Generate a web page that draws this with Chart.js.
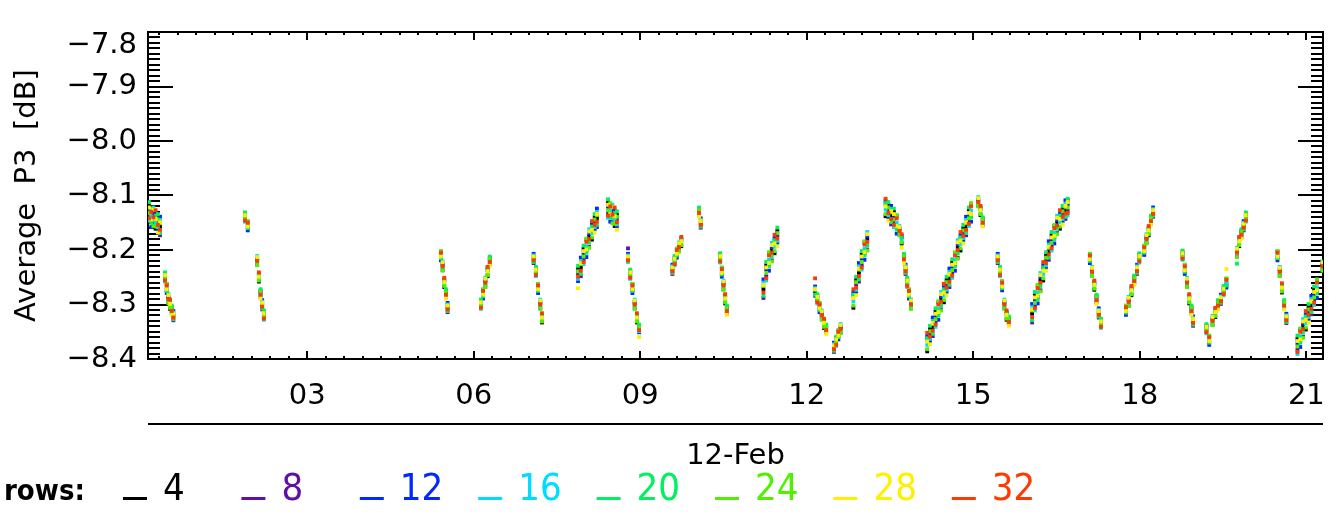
<!DOCTYPE html>
<html lang="en">
<head>
  <meta charset="UTF-8">
  <title>Average P3 - 12-Feb</title>
  <script src="https://cdn.jsdelivr.net/npm/chart.js"></script>
  <style>
    body { margin: 0; background: #fff; }
    canvas { display: block; }
  </style>
</head>
<body>
  <canvas id="p3Chart" width="1335" height="517"></canvas>

  <script>
    // hours of 12-Feb, shared by all rows (one line per pass)
    const times = [
      0.15, 0.19, 0.23, 0.27, 0.31, 0.35,
      0.44, 0.47, 0.50, 0.53, 0.56, 0.59,
      1.88, 1.93,
      2.10, 2.13, 2.16, 2.19, 2.22,
      5.41, 5.44, 5.47, 5.50, 5.53,
      6.13, 6.17, 6.21, 6.25, 6.29,
      7.08, 7.12, 7.16, 7.20, 7.23,
      7.88, 7.93, 7.98, 8.03, 8.08, 8.13, 8.18, 8.22,
      8.42, 8.46, 8.50, 8.54, 8.58,
      8.78, 8.82, 8.86, 8.90, 8.94, 8.98,
      9.58, 9.62, 9.66, 9.70, 9.74,
      10.06, 10.09,
      10.44, 10.47, 10.50, 10.53, 10.56,
      11.22, 11.27, 11.32, 11.37, 11.42, 11.47,
      12.15, 12.19, 12.23, 12.27, 12.31, 12.35,
      12.49, 12.53, 12.57, 12.61,
      12.84, 12.89, 12.94, 12.99, 13.04, 13.09,
      13.42, 13.47, 13.52, 13.57, 13.62, 13.67, 13.71,
      13.75, 13.78, 13.81, 13.84, 13.88,
      14.17, 14.22, 14.27, 14.32, 14.37, 14.42, 14.47, 14.52, 14.57, 14.62, 14.67, 14.72, 14.77, 14.82, 14.87, 14.92, 14.96,
      15.09, 15.13, 15.17,
      15.44, 15.48, 15.52, 15.56, 15.60, 15.64,
      16.06, 16.11, 16.16, 16.21, 16.26, 16.31, 16.36, 16.41, 16.46, 16.51, 16.56, 16.61, 16.66, 16.70,
      17.10, 17.14, 17.18, 17.22, 17.26, 17.30,
      17.75, 17.80, 17.85, 17.90, 17.95, 17.99,
      18.08, 18.12, 18.16, 18.20, 18.24,
      18.77, 18.81, 18.85, 18.89, 18.93, 18.96,
      19.20, 19.25,
      19.31, 19.36, 19.41, 19.46, 19.51, 19.56,
      19.75, 19.79, 19.83, 19.87, 19.91,
      20.48, 20.52, 20.56, 20.60, 20.64,
      20.84, 20.89, 20.94, 20.99, 21.04, 21.09, 21.14, 21.19,
      21.29
    ];

    const rows4 = [
      -8.118, -8.146, -8.136, -8.161, -8.140, -8.157,
      -8.244, -8.273, -8.288, -8.308, -8.305, -8.321,
      -8.134, -8.158,
      -8.218, -8.258, -8.275, -8.301, -8.314,
      -8.213, -8.228, -8.268, -8.275, -8.306,
      -8.294, -8.283, -8.258, -8.248, -8.215,
      -8.216, -8.234, -8.273, -8.298, -8.333,
      -8.235, -8.232, -8.198, -8.201, -8.176, -8.181, -8.140, -8.142,
      -8.113, -8.136, -8.131, -8.156, -8.135,
      -8.216, -8.239, -8.273, -8.298, -8.333, -8.340,
      -8.236, -8.214, -8.208, -8.193, -8.193,
      -8.125, -8.151,
      -8.209, -8.243, -8.263, -8.298, -8.305,
      -8.272, -8.228, -8.226, -8.201, -8.206, -8.165,
      -8.276, -8.284, -8.308, -8.318, -8.343, -8.340,
      -8.379, -8.362, -8.358, -8.343,
      -8.306, -8.255, -8.242, -8.208, -8.206, -8.181,
      -8.138, -8.118, -8.137, -8.130, -8.158, -8.163, -8.188,
      -8.210, -8.236, -8.254, -8.283, -8.298,
      -8.386, -8.345, -8.342, -8.313, -8.316, -8.291, -8.296, -8.255, -8.252, -8.223, -8.226, -8.196, -8.201, -8.160, -8.157, -8.128, -8.136,
      -8.110, -8.136, -8.143,
      -8.216, -8.234, -8.268, -8.298, -8.328, -8.325,
      -8.317, -8.283, -8.286, -8.256, -8.256, -8.210, -8.202, -8.173, -8.176, -8.151, -8.161, -8.125, -8.127, -8.108,
      -8.218, -8.238, -8.273, -8.285, -8.316, -8.329,
      -8.313, -8.293, -8.283, -8.250, -8.236, -8.209,
      -8.203, -8.178, -8.173, -8.140, -8.131,
      -8.204, -8.238, -8.258, -8.298, -8.305, -8.331,
      -8.339, -8.368,
      -8.328, -8.323, -8.295, -8.291, -8.269, -8.263,
      -8.203, -8.193, -8.165, -8.156, -8.134,
      -8.213, -8.238, -8.278, -8.295, -8.326,
      -8.363, -8.366, -8.341, -8.346, -8.305, -8.302, -8.273, -8.276,
      -8.228
    ];

    const rows8 = [
      -8.138, -8.126, -8.154, -8.139, -8.148, -8.173,
      -8.254, -8.263, -8.297, -8.297, -8.309, -8.329,
      -8.144, -8.148,
      -8.227, -8.247, -8.279, -8.309, -8.324,
      -8.203, -8.237, -8.257, -8.279, -8.314,
      -8.304, -8.273, -8.267, -8.237, -8.219,
      -8.224, -8.244, -8.263, -8.307, -8.322,
      -8.243, -8.248, -8.218, -8.181, -8.194, -8.159, -8.148, -8.158,
      -8.133, -8.116, -8.149, -8.134, -8.143,
      -8.197, -8.249, -8.263, -8.307, -8.322, -8.344,
      -8.244, -8.224, -8.198, -8.202, -8.182,
      -8.129, -8.159,
      -8.219, -8.233, -8.272, -8.287, -8.309,
      -8.288, -8.248, -8.206, -8.219, -8.184, -8.173,
      -8.284, -8.294, -8.298, -8.327, -8.332, -8.344,
      -8.387, -8.372, -8.348, -8.352,
      -8.284, -8.263, -8.258, -8.228, -8.186, -8.199,
      -8.116, -8.126, -8.153, -8.150, -8.138, -8.172, -8.177,
      -8.214, -8.244, -8.264, -8.273, -8.307,
      -8.364, -8.353, -8.358, -8.333, -8.296, -8.309, -8.274, -8.263, -8.268, -8.243, -8.206, -8.214, -8.179, -8.168, -8.173, -8.148, -8.116,
      -8.119, -8.125, -8.147,
      -8.224, -8.244, -8.258, -8.307, -8.317, -8.329,
      -8.333, -8.303, -8.266, -8.274, -8.234, -8.218, -8.218, -8.193, -8.156, -8.169, -8.139, -8.133, -8.143, -8.128,
      -8.208, -8.247, -8.262, -8.289, -8.324, -8.339,
      -8.303, -8.302, -8.272, -8.254, -8.244, -8.219,
      -8.193, -8.187, -8.162, -8.144, -8.139,
      -8.214, -8.228, -8.267, -8.287, -8.309, -8.339,
      -8.349, -8.358,
      -8.337, -8.312, -8.299, -8.299, -8.279, -8.253,
      -8.212, -8.182, -8.169, -8.164, -8.144,
      -8.203, -8.247, -8.267, -8.299, -8.334,
      -8.383, -8.346, -8.359, -8.324, -8.313, -8.318, -8.293, -8.256,
      -8.237
    ];

    const rows12 = [
      -8.126, -8.158, -8.130, -8.133, -8.162, -8.139,
      -8.248, -8.279, -8.285, -8.294, -8.316, -8.312,
      -8.138, -8.164,
      -8.215, -8.244, -8.286, -8.292, -8.318,
      -8.219, -8.225, -8.254, -8.286, -8.297,
      -8.298, -8.289, -8.255, -8.234, -8.226,
      -8.207, -8.238, -8.279, -8.295, -8.319,
      -8.257, -8.214, -8.206, -8.213, -8.170, -8.153, -8.162, -8.124,
      -8.121, -8.148, -8.125, -8.128, -8.157,
      -8.207, -8.243, -8.279, -8.295, -8.319, -8.351,
      -8.227, -8.218, -8.214, -8.190, -8.179,
      -8.136, -8.142,
      -8.213, -8.249, -8.260, -8.284, -8.316,
      -8.254, -8.236, -8.238, -8.195, -8.178, -8.187,
      -8.267, -8.288, -8.314, -8.315, -8.329, -8.351,
      -8.370, -8.366, -8.364, -8.340,
      -8.278, -8.277, -8.224, -8.216, -8.218, -8.175,
      -8.110, -8.140, -8.119, -8.138, -8.170, -8.160, -8.174,
      -8.221, -8.227, -8.258, -8.289, -8.295,
      -8.358, -8.367, -8.324, -8.321, -8.328, -8.285, -8.268, -8.277, -8.234, -8.231, -8.238, -8.190, -8.173, -8.182, -8.139, -8.136, -8.148,
      -8.107, -8.122, -8.154,
      -8.207, -8.238, -8.274, -8.295, -8.314, -8.336,
      -8.299, -8.291, -8.298, -8.250, -8.228, -8.232, -8.184, -8.181, -8.188, -8.145, -8.133, -8.147, -8.109, -8.116,
      -8.224, -8.235, -8.259, -8.296, -8.307, -8.333,
      -8.319, -8.290, -8.269, -8.261, -8.227, -8.213,
      -8.209, -8.175, -8.159, -8.151, -8.122,
      -8.208, -8.244, -8.255, -8.284, -8.316, -8.322,
      -8.343, -8.374,
      -8.325, -8.309, -8.306, -8.282, -8.273, -8.269,
      -8.200, -8.179, -8.176, -8.147, -8.138,
      -8.219, -8.235, -8.264, -8.306, -8.317,
      -8.371, -8.378, -8.335, -8.318, -8.327, -8.284, -8.281, -8.288,
      -8.225
    ];

    const rows16 = [
      -8.146, -8.138, -8.122, -8.149, -8.158, -8.145,
      -8.258, -8.269, -8.281, -8.302, -8.314, -8.315,
      -8.148, -8.154,
      -8.211, -8.252, -8.284, -8.295, -8.328,
      -8.209, -8.221, -8.262, -8.284, -8.300,
      -8.308, -8.279, -8.251, -8.242, -8.224,
      -8.210, -8.248, -8.269, -8.291, -8.327,
      -8.253, -8.220, -8.226, -8.193, -8.162, -8.169, -8.158, -8.130,
      -8.141, -8.128, -8.117, -8.144, -8.153,
      -8.210, -8.253, -8.269, -8.291, -8.327, -8.349,
      -8.230, -8.228, -8.204, -8.186, -8.187,
      -8.134, -8.145,
      -8.223, -8.239, -8.256, -8.292, -8.314,
      -8.260, -8.256, -8.218, -8.187, -8.194, -8.183,
      -8.270, -8.298, -8.304, -8.311, -8.337, -8.349,
      -8.373, -8.376, -8.354, -8.336,
      -8.294, -8.273, -8.230, -8.236, -8.198, -8.167,
      -8.126, -8.136, -8.125, -8.158, -8.150, -8.156, -8.182,
      -8.219, -8.230, -8.268, -8.279, -8.291,
      -8.374, -8.363, -8.330, -8.341, -8.308, -8.277, -8.284, -8.273, -8.240, -8.251, -8.218, -8.182, -8.189, -8.178, -8.145, -8.156, -8.128,
      -8.103, -8.130, -8.152,
      -8.210, -8.248, -8.264, -8.291, -8.322, -8.334,
      -8.305, -8.311, -8.278, -8.242, -8.244, -8.228, -8.190, -8.201, -8.168, -8.137, -8.149, -8.143, -8.115, -8.136,
      -8.214, -8.231, -8.267, -8.294, -8.310, -8.343,
      -8.309, -8.286, -8.277, -8.259, -8.230, -8.223,
      -8.199, -8.171, -8.167, -8.149, -8.125,
      -8.218, -8.234, -8.251, -8.292, -8.314, -8.325,
      -8.353, -8.364,
      -8.321, -8.317, -8.304, -8.285, -8.283, -8.259,
      -8.196, -8.187, -8.174, -8.150, -8.148,
      -8.209, -8.231, -8.272, -8.304, -8.320,
      -8.391, -8.358, -8.327, -8.334, -8.323, -8.290, -8.301, -8.268,
      -8.221
    ];

    const rows20 = [
      -8.112, -8.150, -8.146, -8.137, -8.134, -8.169,
      -8.241, -8.275, -8.293, -8.296, -8.302, -8.327,
      -8.131, -8.160,
      -8.223, -8.246, -8.272, -8.307, -8.311,
      -8.215, -8.233, -8.256, -8.272, -8.312,
      -8.291, -8.285, -8.263, -8.236, -8.212,
      -8.222, -8.231, -8.275, -8.303, -8.321,
      -8.229, -8.244, -8.192, -8.205, -8.186, -8.157, -8.134, -8.154,
      -8.107, -8.140, -8.141, -8.132, -8.129,
      -8.222, -8.236, -8.275, -8.303, -8.321, -8.337,
      -8.242, -8.211, -8.210, -8.198, -8.181,
      -8.122, -8.157,
      -8.206, -8.245, -8.268, -8.286, -8.302,
      -8.284, -8.222, -8.230, -8.211, -8.182, -8.159,
      -8.282, -8.281, -8.310, -8.323, -8.331, -8.337,
      -8.385, -8.359, -8.360, -8.348,
      -8.282, -8.249, -8.254, -8.202, -8.210, -8.191,
      -8.114, -8.112, -8.149, -8.124, -8.162, -8.168, -8.176,
      -8.207, -8.242, -8.251, -8.285, -8.303,
      -8.362, -8.339, -8.354, -8.307, -8.320, -8.301, -8.272, -8.249, -8.264, -8.217, -8.230, -8.206, -8.177, -8.154, -8.169, -8.122, -8.140,
      -8.115, -8.124, -8.140,
      -8.222, -8.231, -8.270, -8.303, -8.316, -8.322,
      -8.329, -8.277, -8.290, -8.266, -8.232, -8.204, -8.214, -8.167, -8.180, -8.161, -8.137, -8.119, -8.139, -8.106,
      -8.220, -8.243, -8.261, -8.282, -8.322, -8.326,
      -8.315, -8.298, -8.271, -8.247, -8.242, -8.206,
      -8.205, -8.183, -8.161, -8.137, -8.137,
      -8.201, -8.240, -8.263, -8.286, -8.302, -8.337,
      -8.336, -8.370,
      -8.333, -8.311, -8.292, -8.297, -8.266, -8.265,
      -8.225, -8.181, -8.162, -8.162, -8.131,
      -8.215, -8.243, -8.266, -8.292, -8.332,
      -8.357, -8.370, -8.351, -8.322, -8.299, -8.314, -8.267, -8.280,
      -8.233
    ];

    const rows24 = [
      -8.132, -8.124, -8.156, -8.157, -8.144, -8.151,
      -8.251, -8.262, -8.298, -8.306, -8.307, -8.318,
      -8.141, -8.147,
      -8.228, -8.256, -8.277, -8.298, -8.321,
      -8.202, -8.238, -8.266, -8.277, -8.303,
      -8.301, -8.272, -8.268, -8.246, -8.217,
      -8.213, -8.241, -8.262, -8.308, -8.331,
      -8.239, -8.226, -8.212, -8.179, -8.196, -8.177, -8.144, -8.136,
      -8.127, -8.114, -8.151, -8.152, -8.139,
      -8.213, -8.246, -8.262, -8.308, -8.331, -8.342,
      -8.233, -8.221, -8.197, -8.203, -8.191,
      -8.127, -8.148,
      -8.216, -8.232, -8.273, -8.296, -8.307,
      -8.266, -8.242, -8.204, -8.221, -8.202, -8.169,
      -8.273, -8.291, -8.297, -8.328, -8.341, -8.342,
      -8.376, -8.369, -8.347, -8.353,
      -8.302, -8.259, -8.236, -8.222, -8.184, -8.201,
      -8.134, -8.122, -8.131, -8.144, -8.136, -8.173, -8.186,
      -8.212, -8.233, -8.261, -8.272, -8.308,
      -8.382, -8.349, -8.336, -8.327, -8.294, -8.311, -8.292, -8.259, -8.246, -8.237, -8.204, -8.216, -8.197, -8.164, -8.151, -8.142, -8.114,
      -8.120, -8.134, -8.145,
      -8.213, -8.241, -8.257, -8.308, -8.326, -8.327,
      -8.311, -8.297, -8.264, -8.276, -8.252, -8.214, -8.196, -8.187, -8.154, -8.171, -8.157, -8.129, -8.121, -8.122,
      -8.207, -8.248, -8.271, -8.287, -8.313, -8.336,
      -8.302, -8.303, -8.281, -8.252, -8.233, -8.216,
      -8.192, -8.188, -8.171, -8.142, -8.128,
      -8.211, -8.227, -8.268, -8.296, -8.307, -8.328,
      -8.346, -8.357,
      -8.338, -8.321, -8.297, -8.288, -8.276, -8.252,
      -8.213, -8.191, -8.167, -8.153, -8.141,
      -8.202, -8.248, -8.276, -8.297, -8.323,
      -8.377, -8.344, -8.361, -8.342, -8.309, -8.296, -8.287, -8.254,
      -8.238
    ];

    const rows28 = [
      -8.122, -8.144, -8.126, -8.143, -8.168, -8.149,
      -8.246, -8.272, -8.283, -8.299, -8.319, -8.317,
      -8.136, -8.157,
      -8.213, -8.249, -8.289, -8.297, -8.316,
      -8.212, -8.223, -8.259, -8.289, -8.302,
      -8.296, -8.282, -8.253, -8.239, -8.229,
      -8.212, -8.236, -8.272, -8.293, -8.324,
      -8.270, -8.224, -8.202, -8.199, -8.166, -8.163, -8.168, -8.134,
      -8.117, -8.134, -8.121, -8.138, -8.163,
      -8.212, -8.241, -8.272, -8.293, -8.324, -8.360,
      -8.232, -8.216, -8.207, -8.188, -8.184,
      -8.139, -8.147,
      -8.211, -8.242, -8.258, -8.289, -8.319,
      -8.264, -8.232, -8.224, -8.191, -8.188, -8.193,
      -8.272, -8.286, -8.307, -8.313, -8.334, -8.354,
      -8.375, -8.364, -8.357, -8.338,
      -8.288, -8.283, -8.234, -8.212, -8.204, -8.171,
      -8.120, -8.146, -8.129, -8.134, -8.156, -8.158, -8.196,
      -8.224, -8.232, -8.256, -8.282, -8.293,
      -8.368, -8.373, -8.334, -8.317, -8.314, -8.281, -8.278, -8.283, -8.244, -8.227, -8.224, -8.186, -8.183, -8.188, -8.149, -8.132, -8.134,
      -8.105, -8.127, -8.157,
      -8.212, -8.236, -8.267, -8.293, -8.319, -8.339,
      -8.309, -8.287, -8.284, -8.246, -8.238, -8.238, -8.194, -8.177, -8.174, -8.141, -8.143, -8.153, -8.119, -8.112,
      -8.217, -8.233, -8.264, -8.299, -8.312, -8.331,
      -8.312, -8.288, -8.274, -8.264, -8.232, -8.211,
      -8.202, -8.173, -8.164, -8.154, -8.127,
      -8.206, -8.237, -8.253, -8.289, -8.319, -8.327,
      -8.341, -8.367,
      -8.323, -8.314, -8.309, -8.287, -8.271, -8.235,
      -8.198, -8.184, -8.179, -8.152, -8.136,
      -8.212, -8.233, -8.269, -8.309, -8.322,
      -8.367, -8.364, -8.331, -8.328, -8.333, -8.294, -8.277, -8.274,
      -8.223
    ];

    const rows32 = [
      -8.142, -8.130, -8.140, -8.127, -8.154, -8.163,
      -8.256, -8.265, -8.290, -8.291, -8.312, -8.324,
      -8.146, -8.150,
      -8.220, -8.241, -8.282, -8.304, -8.326,
      -8.205, -8.230, -8.251, -8.282, -8.309,
      -8.306, -8.275, -8.260, -8.231, -8.222,
      -8.219, -8.246, -8.265, -8.300, -8.316,
      -8.249, -8.238, -8.222, -8.185, -8.180, -8.147, -8.154, -8.148,
      -8.137, -8.120, -8.135, -8.122, -8.149,
      -8.219, -8.251, -8.265, -8.300, -8.316, -8.347,
      -8.239, -8.226, -8.200, -8.195, -8.176,
      -8.132, -8.154,
      -8.221, -8.235, -8.265, -8.281, -8.312,
      -8.278, -8.252, -8.210, -8.205, -8.172, -8.179,
      -8.252, -8.296, -8.300, -8.320, -8.326, -8.347,
      -8.382, -8.374, -8.350, -8.345,
      -8.272, -8.269, -8.248, -8.232, -8.190, -8.185,
      -8.106, -8.132, -8.143, -8.154, -8.142, -8.165, -8.171,
      -8.217, -8.239, -8.266, -8.275, -8.300,
      -8.352, -8.359, -8.348, -8.337, -8.300, -8.295, -8.262, -8.269, -8.258, -8.247, -8.210, -8.200, -8.167, -8.174, -8.163, -8.152, -8.120,
      -8.112, -8.119, -8.150,
      -8.219, -8.246, -8.260, -8.300, -8.311, -8.332,
      -8.323, -8.307, -8.270, -8.260, -8.222, -8.224, -8.208, -8.197, -8.160, -8.155, -8.127, -8.139, -8.133, -8.132,
      -8.210, -8.240, -8.256, -8.292, -8.319, -8.341,
      -8.305, -8.295, -8.266, -8.257, -8.239, -8.221,
      -8.195, -8.180, -8.156, -8.147, -8.134,
      -8.216, -8.230, -8.260, -8.281, -8.312, -8.334,
      -8.351, -8.360,
      -8.330, -8.306, -8.302, -8.294, -8.281, -8.255,
      -8.205, -8.176, -8.172, -8.159, -8.146,
      -8.205, -8.240, -8.261, -8.302, -8.329,
      -8.387, -8.350, -8.345, -8.312, -8.319, -8.308, -8.297, -8.260,
      -8.230
    ];

    const rowLabels = [4, 8, 12, 16, 20, 24, 28, 32];
    const rowValues = [rows4, rows8, rows12, rows16, rows20, rows24, rows28, rows32];
    const rowColors = ['#000000', '#6010a8', '#0028ff', '#00dcff', '#00f060', '#50f000', '#fff000', '#ff3a00'];

    const hourTicks = [3, 6, 9, 12, 15, 18, 21];
    const hourLabels = ['03', '06', '09', '12', '15', '18', '21'];
    const p3Ticks = [-8.4, -8.3, -8.2, -8.1, -8.0, -7.9, -7.8];
    const p3Labels = ['\u22128.4', '\u22128.3', '\u22128.2', '\u22128.1', '\u22128.0', '\u22127.9', '\u22127.8'];

    const FONT = '"DejaVu Sans", sans-serif';

    // IDL style box: inward ticks on all four sides, separator line and the "rows:" legend
    const idlFrame = {
      id: 'idlFrame',
      beforeDatasetsDraw(chart) {
        const { ctx, chartArea: a, scales: { x, y } } = chart;
        ctx.save();
        ctx.strokeStyle = '#000';
        ctx.lineWidth = 2;
        ctx.strokeRect(a.left, a.top, a.right - a.left, a.bottom - a.top);
        ctx.beginPath();
        for (let k = -840; k <= -780; k++) {
          const py = Math.round(y.getPixelForValue(k / 100));
          const len = k % 10 === 0 ? 25 : 12;
          ctx.moveTo(a.left, py); ctx.lineTo(a.left + len, py);
          ctx.moveTo(a.right, py); ctx.lineTo(a.right - len, py);
        }
        for (let m = 0; m <= 66; m++) {
          const h = m / 3;
          if (h < x.min || h > x.max) continue;
          const px = Math.round(x.getPixelForValue(h));
          const len = m % 9 === 0 ? 8 : 3;
          ctx.moveTo(px, a.bottom); ctx.lineTo(px, a.bottom - len);
          ctx.moveTo(px, a.top); ctx.lineTo(px, a.top + len);
        }
        ctx.stroke();
        ctx.restore();
      },
      afterDraw(chart) {
        const { ctx, chartArea: a } = chart;
        ctx.save();
        ctx.fillStyle = '#000';
        ctx.fillRect(a.left, a.bottom + 64, a.right - a.left, 2);

        ctx.textAlign = 'left';
        ctx.textBaseline = 'alphabetic';
        ctx.font = 'bold 29px "DejaVu Sans Condensed", "DejaVu Sans", sans-serif';
        ctx.fillText('rows:', 4, 500);
        ctx.font = '38px "DejaVu Sans Condensed", "DejaVu Sans", sans-serif';
        rowLabels.forEach((r, i) => {
          const x0 = 123 + i * 118.4;
          ctx.fillStyle = rowColors[i];
          ctx.fillRect(x0, 497, 24, 3);
          ctx.fillText(String(r), x0 + 40, 500);
        });
        ctx.restore();
      }
    };

    new Chart(document.getElementById('p3Chart'), {
      type: 'scatter',
      data: {
        datasets: rowValues.map((vals, i) => ({
          label: 'rows ' + rowLabels[i],
          data: times.map((t, j) => ({ x: t, y: vals[j] })),
          backgroundColor: rowColors[i],
          pointStyle: 'rect',
          pointRadius: 2.7,
          pointBorderWidth: 0,
          order: rowLabels.length - 1 - i
        }))
      },
      options: {
        responsive: false,
        animation: false,
        layout: { padding: { top: 32, right: 12, bottom: 0, left: 0 } },
        plugins: {
          legend: { display: false },
          tooltip: { enabled: false }
        },
        scales: {
          x: {
            type: 'linear',
            min: 0.133,
            max: 21.3,
            afterFit(s) { s.height = 158; s.paddingLeft = 0; s.paddingRight = 0; },
            afterBuildTicks(s) { s.ticks = hourTicks.map(v => ({ value: v })); },
            grid: { display: false, drawTicks: false },
            border: { display: false },
            ticks: {
              maxRotation: 0,
              autoSkip: false,
              padding: 20,
              color: '#000',
              font: { family: FONT, size: 29 },
              callback: v => hourLabels[hourTicks.indexOf(v)]
            },
            title: {
              display: true,
              text: '12-Feb',
              color: '#000',
              font: { family: FONT, size: 29 },
              padding: { top: 0, bottom: 43 }
            }
          },
          y: {
            min: -8.4,
            max: -7.8,
            afterFit(s) { s.width = 148; s.paddingTop = 0; s.paddingBottom = 0; },
            afterBuildTicks(s) { s.ticks = p3Ticks.map(v => ({ value: v })); },
            grid: { display: false, drawTicks: false },
            border: { display: false },
            ticks: {
              autoSkip: false,
              padding: 11,
              color: '#000',
              font: { family: FONT, size: 29, lineHeight: 0.9 },
              callback: v => {
                const label = p3Labels[p3Ticks.findIndex(t => Math.abs(t - v) < 1e-6)];
                return v > -7.81 ? ['', label] : label;
              }
            },
            title: {
              display: true,
              text: 'Average  P3  [dB]',
              color: '#000',
              font: { family: FONT, size: 29 },
              padding: { top: 10, bottom: 0 }
            }
          }
        }
      },
      plugins: [idlFrame]
    });
  </script>
</body>
</html>
